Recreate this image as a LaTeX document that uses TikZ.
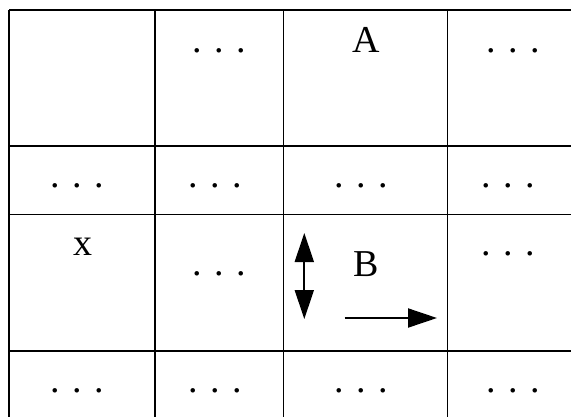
\documentclass[tikz,border=0pt]{standalone}
\usepackage{fontspec}
\setmainfont{Liberation Serif}
\usetikzlibrary{arrows.meta}
\begin{document}
\begin{tikzpicture}[x=1pt,y=-1pt,
  grid/.style={line width=1.8pt,black},
  lbl/.style={inner sep=0pt,anchor=base,font=\fontsize{38}{40}\selectfont},
  mover/.style={line width=2pt,-{Triangle[length=29pt,width=19pt]}},
  dmover/.style={line width=2pt,{Triangle[length=29pt,width=19pt]}-{Triangle[length=29pt,width=19pt]}}]
\clip (0,0) rectangle (571,416);
\fill[white] (0,0) rectangle (571,416);
% grid lines
\draw[grid] (9,10) -- (9,440);
\draw[grid] (155,10) -- (155,440);
\draw[grid] (283.5,10) -- (283.5,440);
\draw[grid] (447.5,10) -- (447.5,440);
\draw[grid] (9,10) -- (600,10);
\draw[grid] (9,146) -- (600,146);
\draw[grid] (9,214.5) -- (600,214.5);
\draw[grid] (9,351) -- (600,351);
% row 1
\node[lbl] (r1c2) at (219.5,52) {. . .};
\node[lbl] (r1c3) at (366,52) {A};
\node[lbl] (r1c4) at (513,52) {. . .};
% row 2
\node[lbl] (r2c1) at (77.5,187.5) {. . .};
\node[lbl] (r2c2) at (215,187.5) {. . .};
\node[lbl] (r2c3) at (361.5,187.5) {. . .};
\node[lbl] (r2c4) at (508,187.5) {. . .};
% row 3
\node[lbl] (r3c1) at (83,255) {x};
\node[lbl] (r3c2) at (219.5,275) {. . .};
\node[lbl] (r3c3) at (366,276) {B};
\node[lbl] (r3c4) at (508,255) {. . .};
% row 4
\node[lbl] (r4c1) at (77.5,392) {. . .};
\node[lbl] (r4c2) at (215,392) {. . .};
\node[lbl] (r4c3) at (361.5,392) {. . .};
\node[lbl] (r4c4) at (513,392) {. . .};
% arrows
\coordinate (vtop) at (304.3,233);
\coordinate (vbot) at (304.3,319);
\coordinate (hstart) at (344.5,318);
\coordinate (hend) at (437,318);
\draw[dmover] (vtop) -- (vbot);
\draw[mover] (hstart) -- (hend);
\end{tikzpicture}
\end{document}
